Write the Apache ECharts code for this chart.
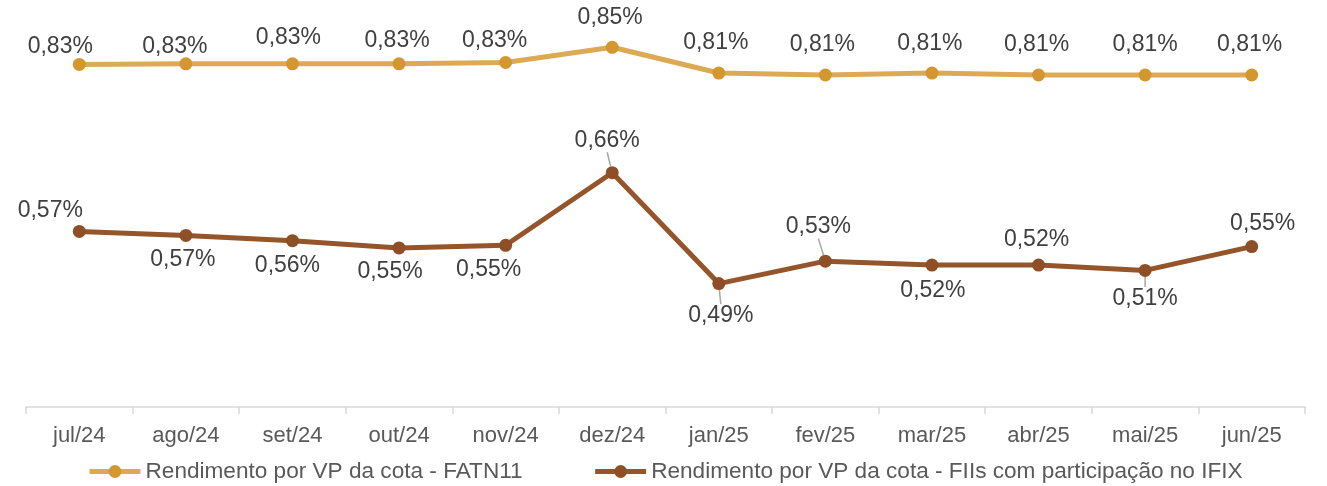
<!DOCTYPE html>
<html>
<head>
<meta charset="utf-8">
<title>Rendimento por VP da cota</title>
<script src="https://cdn.jsdelivr.net/npm/echarts@6/dist/echarts.min.js"></script>
<style>
  html, body { margin: 0; padding: 0; background: #fff; }
  #chart { width: 1327px; height: 486px; }
</style>
</head>
<body>
<div id="chart"></div>
<script>
// dados (% ao mês)
var months = ["jul/24", "ago/24", "set/24", "out/24", "nov/24", "dez/24", "jan/25", "fev/25", "mar/25", "abr/25", "mai/25", "jun/25"];
var fatn11 = [0.826, 0.827, 0.827, 0.827, 0.829, 0.852, 0.813, 0.810, 0.813, 0.810, 0.810, 0.810];
var ifix = [0.573, 0.567, 0.559, 0.548, 0.552, 0.662, 0.494, 0.528, 0.522, 0.522, 0.514, 0.550];

// deslocamento dos rótulos em relação ao ponto [dx, dy]
var fatnOffsets = [[-19, -18], [-11, -17], [-4, -26], [-2, -23], [-11, -22], [-2, -30], [-3, -30], [-3, -30], [-2, -29], [-2, -30], [0, -30], [-2, -30]];
var ifixOffsets = [[-29, -21], [-3, 24], [-5, 25], [-9, 24], [-17, 24], [-5, -32], [2, 32], [-7, -34], [1, 26], [-2, -25], [0, 28], [11, -23]];
var ifixLeader = [false, false, false, false, false, true, true, true, false, false, true, false];

var FONT = "Liberation Sans, Arial, sans-serif";

function fmt(v) { return v.toFixed(2).replace(".", ",") + "%"; }

function buildData(values, leader) {
    return values.map(function(v, i) {
        var item = { value: v };
        if (leader && leader[i]) item.labelLine = { show: true };
        return item;
    });
}

function layoutFor(offsets) {
    return function(p) {
        var o = offsets[p.dataIndex];
        return { dx: o[0], dy: o[1] };
    };
}

var chart = echarts.init(document.getElementById("chart"), null, { renderer: "canvas" });

var labelStyle = {
    show: true,
    position: "inside",
    fontFamily: FONT,
    fontSize: 23,
    color: "#404040",
    formatter: function(p) { return fmt(p.value); }
};

chart.setOption({
    animation: false,
    textStyle: { fontFamily: FONT },
    grid: { left: 26, right: 22, top: 11, bottom: 79 },
    legend: {
        top: 460,
        left: 87,
        padding: 0,
        itemWidth: 51,
        itemHeight: 16,
        itemGap: 70,
        lineStyle: { width: 5 },
        textStyle: { fontFamily: FONT, fontSize: 22.6, color: "#595959" },
        data: ["Rendimento por VP da cota - FATN11", "Rendimento por VP da cota - FIIs com participação no IFIX"]
    },
    xAxis: {
        type: "category",
        data: months,
        boundaryGap: true,
        axisLine: { lineStyle: { color: "#d9d9d9", width: 1.5 } },
        axisTick: { show: true, length: 7, lineStyle: { color: "#d9d9d9", width: 1.5 } },
        axisLabel: { color: "#595959", fontSize: 22, fontFamily: FONT, margin: 18 }
    },
    yAxis: {
        type: "value",
        min: 0.307,
        max: 0.907,
        show: false,
        splitLine: { show: false }
    },
    series: [
        {
            name: "Rendimento por VP da cota - FATN11",
            type: "line",
            data: buildData(fatn11),
            symbol: "circle",
            symbolSize: 13,
            lineStyle: { color: "#dcaa55", width: 5 },
            itemStyle: { color: "#d4962e" },
            label: labelStyle,
            labelLayout: layoutFor(fatnOffsets),
            z: 3
        },
        {
            name: "Rendimento por VP da cota - FIIs com participação no IFIX",
            type: "line",
            data: buildData(ifix, ifixLeader),
            symbol: "circle",
            symbolSize: 13,
            lineStyle: { color: "#94552b", width: 5 },
            itemStyle: { color: "#8e4f26" },
            label: labelStyle,
            labelLayout: layoutFor(ifixOffsets),
            labelLine: { show: false, lineStyle: { color: "#a6a6a6", width: 1.5 } },
            z: 3
        }
    ]
});
</script>
</body>
</html>
